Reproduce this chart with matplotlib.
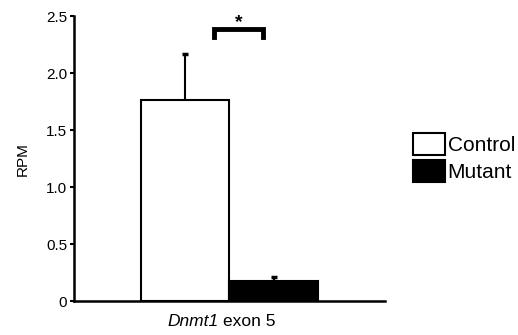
import numpy as np
import matplotlib.pyplot as plt
from matplotlib.patches import Patch

plt.rcParams['font.family'] = ['Liberation Sans', 'DejaVu Sans']

groups = ["Control", "Mutant"]
means = [1.76, 0.18]
errs = [0.41, 0.035]
colors = ["white", "black"]
yticks = [0, 0.5, 1.0, 1.5, 2.0, 2.5]
yticklabels = ["0", "0.5", "1.0", "1.5", "2.0", "2.5"]
gene = "Dnmt1"
region = "exon 5"

fig = plt.figure(figsize=(5.18, 3.35), dpi=100)
ax = fig.add_axes([0.143, 0.101, 0.600, 0.851])

width = 0.284
xpos = [-width / 2, width / 2]
for x, m, e, c in zip(xpos, means, errs, colors):
    ax.bar(x, m, width=width, color=c, edgecolor="black", linewidth=1.5, zorder=2)
    # upper error bar only, cap on top
    ax.vlines(x, m, m + e, color="black", lw=1.5, zorder=3)
    ax.plot([x], [m + e], marker="_", ms=5, mew=2.5, color="black", zorder=3)

ax.set_xlim(-0.5, 0.5)
ax.set_ylim(0, 2.5)
ax.set_yticks(yticks)
ax.set_yticklabels(yticklabels, fontsize=11)
ax.set_xticks([])
ax.tick_params(axis="y", length=3, width=1.5, pad=2)
ax.set_ylabel("RPM", fontsize=11, labelpad=12)
for s in ["top", "right"]:
    ax.spines[s].set_visible(False)
for s in ["left", "bottom"]:
    ax.spines[s].set_linewidth(1.8)

# x label: italic gene name + plain text
ax.text(-0.036, -0.045, gene, style="italic", ha="right", va="top",
        fontsize=12.5, transform=ax.get_xaxis_transform())
ax.text(-0.022, -0.045, region, ha="left", va="top",
        fontsize=12.5, transform=ax.get_xaxis_transform())

# significance bracket
bx0, bx1 = -0.05, 0.108
ax.plot([bx0, bx0, bx1, bx1], [2.32, 2.39, 2.39, 2.32], color="black",
        lw=3.5, solid_joinstyle="miter", clip_on=False)
ax.text((bx0 + bx1) / 2, 2.44, "*", ha="center", va="center", fontsize=14,
        fontweight="bold")

handles = [Patch(facecolor=c, edgecolor="black", linewidth=1.5) for c in colors]
fig.legend(handles, groups, loc="center left", bbox_to_anchor=(0.797, 0.53),
           frameon=False, fontsize=15, handlelength=1.55, handleheight=1.25,
           handletextpad=0.12, labelspacing=0.22, borderpad=0,
           borderaxespad=0)

fig.savefig("out.png", dpi=100)
